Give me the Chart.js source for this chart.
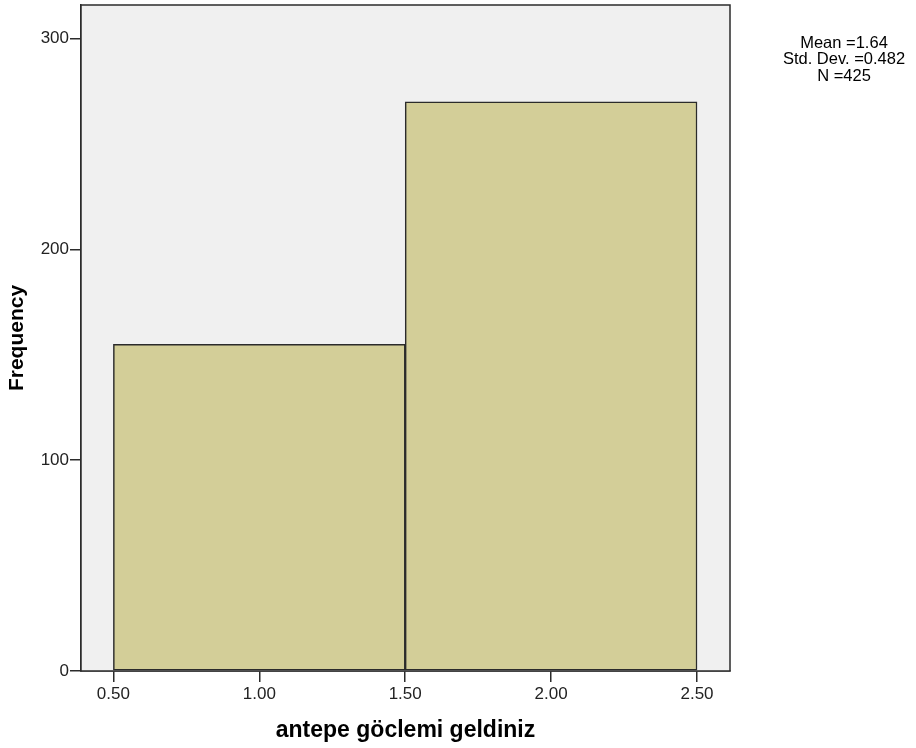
<!DOCTYPE html>
<html>
<head>
<meta charset="utf-8">
<script src="https://cdn.jsdelivr.net/npm/chart.js@4.4.1/dist/chart.umd.min.js"></script>
<style>
  body { margin: 0; background: #fff; }
  canvas { display: block; }
</style>
</head>
<body>
<canvas id="histChart" width="916" height="748"></canvas>
<script>
// histogram bins (midpoints) and counts
const binMids = [1.0, 2.0]
const counts = [155, 270]
const xTicks = [0.5, 1.0, 1.5, 2.0, 2.5]
const yTicks = [0, 100, 200, 300]
const statLines = ['Mean =1.64', 'Std. Dev. =0.482', 'N =425']

const FONT = "'Liberation Sans', Arial, sans-serif"
const EDGE = '#2b2b2b'

// grey plot background + frame round the plot area
const frame = {
  id: 'frame',
  beforeDatasetsDraw(chart) {
    const { ctx, chartArea: a } = chart
    ctx.save()
    ctx.fillStyle = '#f0f0f0'
    ctx.fillRect(a.left, a.top, a.right - a.left, a.bottom - a.top)
    ctx.restore()
  },
  afterDraw(chart) {
    const { ctx, chartArea: a } = chart
    ctx.save()
    ctx.strokeStyle = EDGE
    ctx.lineWidth = 1.5
    ctx.strokeRect(a.left, a.top, a.right - a.left, a.bottom - a.top)
    // stats box text
    ctx.fillStyle = '#000'
    ctx.font = '16.5px ' + FONT
    ctx.textAlign = 'center'
    ctx.textBaseline = 'top'
    statLines.forEach((t, i) => ctx.fillText(t, 844, 35 + i * 16.5))
    ctx.restore()
  }
}

const ctx = document.getElementById('histChart').getContext('2d')
new Chart(ctx, {
  type: 'bar',
  data: {
    datasets: [{
      data: binMids.map((x, i) => ({ x: x, y: counts[i] })),
      backgroundColor: '#d3ce98',
      borderColor: EDGE,
      borderWidth: 1.5,
      borderSkipped: false,
      barThickness: 'flex',
      barPercentage: 1,
      categoryPercentage: 1
    }]
  },
  options: {
    responsive: false,
    animation: false,
    layout: { padding: { left: 0, top: 5, right: 186, bottom: 0 } },
    plugins: {
      legend: { display: false },
      tooltip: { enabled: false }
    },
    scales: {
      x: {
        type: 'linear',
        offset: false,
        min: 0.389,
        max: 2.613,
        afterBuildTicks: s => { s.ticks = xTicks.map(v => ({ value: v })) },
        afterFit: s => { s.height = 77 },
        ticks: {
          color: '#222',
          font: { family: FONT, size: 17 },
          padding: 2,
          maxRotation: 0,
          callback: v => Number(v).toFixed(2)
        },
        grid: { offset: false, drawOnChartArea: false, tickLength: 11, color: EDGE, lineWidth: 1.5 },
        border: { color: EDGE, width: 1.5 },
        title: {
          display: true,
          text: 'antepe göclemi geldiniz',
          color: '#000',
          font: { family: FONT, size: 23, weight: 'bold' },
          padding: { top: 0, bottom: 4 }
        }
      },
      y: {
        min: 0,
        max: 316,
        afterBuildTicks: s => { s.ticks = yTicks.map(v => ({ value: v })) },
        afterFit: s => { s.width = 81; s.paddingTop = 0 },
        ticks: {
          color: '#222',
          font: { family: FONT, size: 17 },
          padding: 1
        },
        grid: { drawOnChartArea: false, tickLength: 11, color: EDGE, lineWidth: 1.5 },
        border: { color: EDGE, width: 1.5 },
        title: {
          display: true,
          text: 'Frequency',
          color: '#000',
          font: { family: FONT, size: 21, weight: 'bold' },
          padding: { top: 5, bottom: 0 }
        }
      }
    }
  },
  plugins: [frame]
})
</script>
</body>
</html>
